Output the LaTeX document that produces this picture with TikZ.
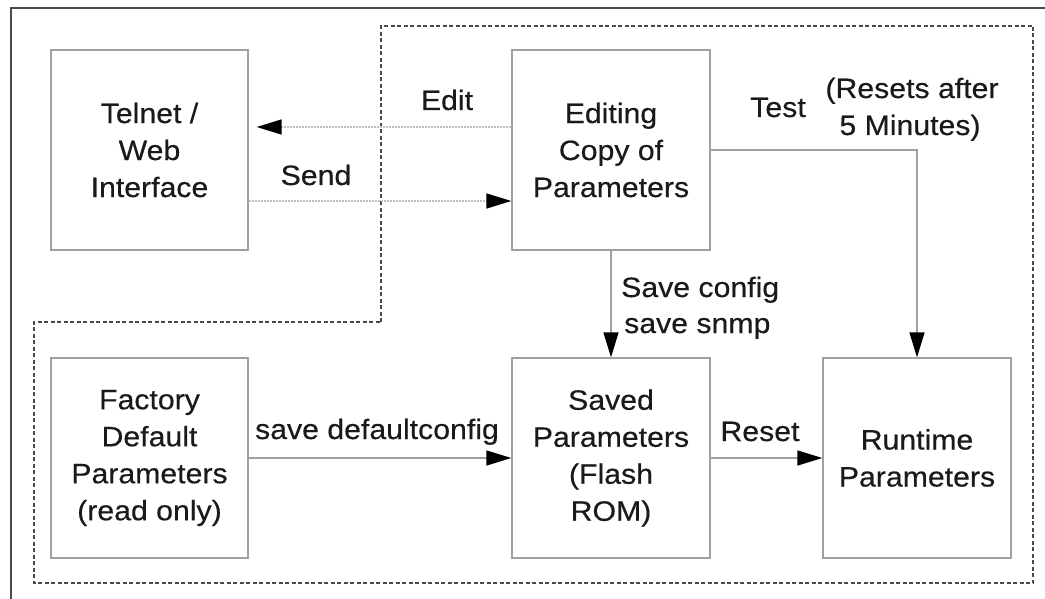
\documentclass[tikz,border=0pt]{standalone}
\usepackage{fontspec}
\setmainfont{Liberation Sans}[FakeStretch=1.08,FakeBold=0.4]
\usetikzlibrary{arrows.meta}
\definecolor{boxgray}{HTML}{A0A0A0}
\definecolor{lightline}{HTML}{C0C0C0}
\definecolor{darkline}{HTML}{4A4A4A}
\definecolor{txt}{HTML}{1A1A1A}
\tikzset{
  pbox/.style={draw=boxgray, line width=1.3pt, align=center, inner sep=0pt, text=txt},
  lbl/.style={inner sep=0pt, align=left, text=txt},
  tip/.style={-{Triangle[length=25pt,width=15pt,color=black]}},
  solidarr/.style={tip, draw=boxgray, line width=1.3pt},
  dotarr/.style={tip, draw=lightline, line width=1.5pt, dash pattern=on 2pt off 1pt},
  region/.style={draw=darkline, line width=2.1pt, dash pattern=on 4pt off 2.5pt},
}
\begin{document}
\begin{tikzpicture}[x=1pt,y=-1pt,font=\fontsize{28}{37}\selectfont]
\useasboundingbox (0,0) rectangle (1045,599);
% outer frame (open on right and bottom)
\draw[darkline, line width=2.4pt] (11,599) -- (11,8) -- (1045,8);
% dashed region
\draw[region] (381,322) -- (381,26) -- (1033,26) -- (1033,583) -- (34,583) -- (34,322) -- cycle;
% boxes
\node[pbox, minimum width=197pt, minimum height=200pt] (tel) at (149.5,150) {Telnet /\\Web\\Interface};
\node[pbox, minimum width=198pt, minimum height=200pt] (ed) at (611,150) {Editing\\Copy of\\Parameters};
\node[pbox, minimum width=197pt, minimum height=200pt] (fac) at (149.5,458) {Factory\\Default\\Parameters\\(read only)};
\node[pbox, minimum width=198pt, minimum height=200pt] (sv) at (611,458) {Saved\\Parameters\\(Flash\\ROM)};
\node[pbox, minimum width=188pt, minimum height=200pt] (rt) at (917,458) {Runtime\\Parameters};
% connectors
\draw[dotarr, shorten >=8pt] ([yshift=23pt]ed.west) -- ([yshift=23pt]tel.east);
\draw[dotarr] ([yshift=-51pt]tel.east) -- ([yshift=-51pt]ed.west);
\draw[solidarr] (ed.east) -| (rt.north);
\draw[solidarr] (ed.south) -- (sv.north);
\draw[solidarr] (fac.east) -- (sv.west);
\draw[solidarr] (sv.east) -- (rt.west);
% labels
\node[lbl, anchor=base] (ledit) at (447,110) {Edit};
\node[lbl, anchor=base] (lsend) at (316,185) {Send};
\node[lbl, anchor=base] (ltest) at (778,117) {Test};
\node[lbl, anchor=base] (lres1) at (912,98) {(Resets after};
\node[lbl, anchor=base] (lres2) at (910,135) {5 Minutes)};
\node[lbl, anchor=base west] (lsave1) at (621,297) {Save config};
\node[lbl, anchor=base west] (lsave2) at (624,333) {save snmp};
\node[lbl, anchor=base] (ldef) at (377,439) {save defaultconfig};
\node[lbl, anchor=base] (lreset) at (760,441) {Reset};
\end{tikzpicture}
\end{document}
